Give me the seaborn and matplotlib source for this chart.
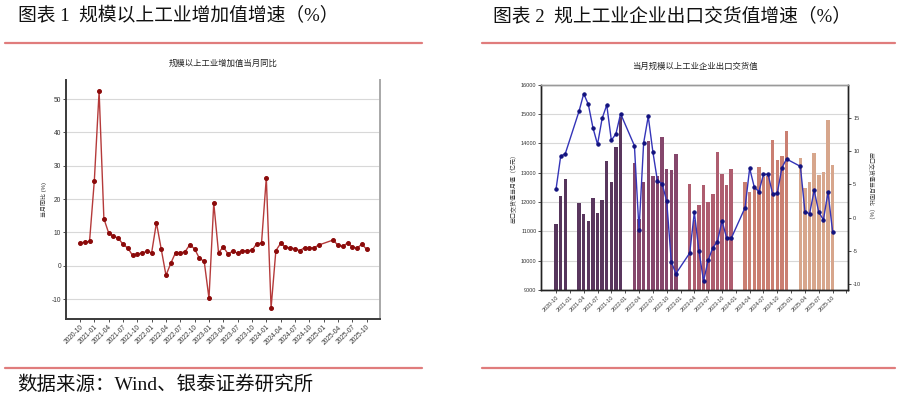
import numpy as np
import pandas as pd
import matplotlib
matplotlib.use("Agg")
import matplotlib.pyplot as plt
from matplotlib.lines import Line2D
import seaborn as sns

nan = np.nan

# monthly axis 2020-10 .. 2025-10
months = pd.period_range("2020-10", "2025-10", freq="M").strftime("%Y-%m").tolist()

# 规模以上工业增加值当月同比 (%)
ip_yoy = [6.9, 7.0, 7.3,
          25.5, 52.3, 14.1, 9.8, 8.8, 8.3, 6.4, 5.3, 3.1, 3.5, 3.8, 4.3,
          3.9, 12.9, 5.0, -2.9, 0.7, 3.9, 3.8, 4.2, 6.3, 5.0, 2.2, 1.3,
          -9.8, 18.8, 3.9, 5.6, 3.5, 4.4, 3.7, 4.5, 4.5, 4.6, 6.6, 6.8,
          26.4, -12.7, 4.5, 6.7, 5.6, 5.3, 5.1, 4.5, 5.4, 5.3, 5.4, 6.2,
          nan, nan, 7.7, 6.1, 5.8, 6.8, 5.7, 5.2, 6.5, 4.9]

# 出口交货值当月值 (亿元)
export_value = [11260, 12200, 12770,
                nan, nan, 11950, 11590, 11340, 12130, 11610, 12060, 13390, 12680, 13870, 14890,
                nan, nan, 13320, 11430, 12680, 14080, 12880, 12870, 14200, 13120, 13080, 13650,
                nan, nan, 12600, 11400, 11890, 12590, 12010, 12260, 13690, 12940, 12580, 13110,
                nan, nan, 12680, 12330, 12490, 13190, 12860, 12900, 14110, 13430, 13570, 14410,
                nan, nan, 13500, 12470, 12680, 13670, 12920, 13010, 14780, 13255]

# 出口交货值当月同比 (%)
export_yoy = [4.3, 9.2, 9.6,
              nan, nan, 16.0, 18.6, 17.0, 13.5, 11.0, 14.9, 16.9, 11.6, 12.6, 15.6,
              nan, nan, 10.8, -1.9, 11.2, 15.2, 9.9, 5.5, 5.1, 2.5, -6.6, -8.4,
              nan, nan, -5.3, 0.8, -5.0, -9.5, -6.4, -4.5, -3.6, -0.5, -3.0, -3.1,
              nan, nan, 1.5, 7.4, 4.6, 3.9, 6.5, 6.5, 3.5, 3.7, 7.5, 8.8,
              nan, nan, 7.7, 0.9, 0.6, 4.1, 0.8, -0.3, 3.8, -2.1]

year_colors = {"2020": "#5a2f62", "2021": "#5e3064", "2022": "#8f3d6e",
               "2023": "#bb5068", "2024": "#d97563", "2025": "#e4a27f"}

df = pd.DataFrame({"month": months, "m": np.arange(len(months)),
                   "ip": ip_yoy, "ev": export_value, "ey": export_yoy})
df["year"] = df["month"].str[:4]

sns.set_theme(style="white")
plt.rcParams["font.family"] = ["Liberation Sans", "Noto Sans CJK SC", "DejaVu Sans"]
plt.rcParams["axes.unicode_minus"] = False

fig = plt.figure(figsize=(9.01, 3.99), dpi=100)
W, H = 901, 399
head_font = ["Liberation Serif", "Noto Sans CJK SC"]
red = "#e07c7c"

# headers, rules and source note
fig.text(18 / W, 1 - 16 / H, "图表 1  规模以上工业增加值增速（%）", fontsize=13.5,
         family=head_font, va="center", color="#111111")
fig.text(493 / W, 1 - 16 / H, "图表 2  规上工业企业出口交货值增速（%）", fontsize=13.5,
         family=head_font, va="center", color="#111111")
for x0, x1 in [(5, 422), (482, 895)]:
    for yy in (42.7, 367.5):
        fig.add_artist(Line2D([x0 / W, x1 / W], [1 - yy / H, 1 - yy / H],
                              color=red, lw=1.6, transform=fig.transFigure))
fig.text(17 / W, 1 - 385 / H, "数据来源：Wind、银泰证券研究所", fontsize=14,
         family=head_font, va="center", color="#111111")

tick_pos = list(range(0, 61, 3))
tick_lab = months[::3]

# ---- left: industrial value added yoy
ax1 = fig.add_axes([66 / W, 1 - 319 / H, 314 / W, 239 / H])
sns.lineplot(data=df.dropna(subset=["ip"]), x="m", y="ip", ax=ax1, color="#b53a3a",
             lw=1.0, marker="o", markersize=2.8, markerfacecolor="#8b0a0a",
             markeredgecolor="#8b0a0a")
ax1.set_xlim(-2.93, 62.8)
ax1.set_ylim(-16, 55.7)
ax1.set_yticks([-10, 0, 10, 20, 30, 40, 50])
ax1.set_xticks(tick_pos)
ax1.set_xticklabels(tick_lab, rotation=45, ha="right", rotation_mode="anchor")
ax1.tick_params(axis="both", labelsize=4.8, length=2, width=0.6, pad=1.5,
                colors="#333333", direction="out", bottom=True, left=True)
ax1.yaxis.grid(True, color="#d8d8d8", lw=0.8)
ax1.set_xlabel("")
ax1.set_ylabel("当月同比 (%)", fontsize=4.3, labelpad=3, color="#333333")
for s in ("left", "bottom"):
    ax1.spines[s].set_color("#3a3a3a")
    ax1.spines[s].set_linewidth(1.4)
ax1.spines["right"].set_color("#a8a8a8")
ax1.spines["right"].set_linewidth(1.4)
ax1.spines["top"].set_visible(False)
fig.text(223 / W, 1 - 64 / H, "规模以上工业增加值当月同比", fontsize=6,
         ha="center", va="center", color="#222222")

# ---- right: export delivery value and yoy
ax2 = fig.add_axes([541.3 / W, 1 - 290 / H, 307 / W, 205.3 / H])
sns.barplot(data=df, x="month", y="ev", hue="year", order=months,
            palette=year_colors, dodge=False, width=0.75, linewidth=0,
            errorbar=None, legend=False, ax=ax2)
ax2.set_xlim(-3.2, 63.4)
ax2.set_ylim(9000, 16000)
ax2.set_yticks(range(9000, 16001, 1000))
ax2.yaxis.grid(True, color="#d8d8d8", lw=0.8)
ax2.set_axisbelow(True)
ax2.set_xticks(tick_pos + [63])
ax2.set_xticklabels(tick_lab + [""], rotation=45, ha="right", rotation_mode="anchor")
ax2.tick_params(axis="both", labelsize=4.0, length=2, width=0.6, pad=1.5,
                colors="#333333", direction="out", bottom=True, left=True)
ax2.set_xlabel("")
ax2.set_ylabel("出口交货值当月值（亿元）", fontsize=4.3, labelpad=3, color="#333333")

ax2b = ax2.twinx()
sns.lineplot(data=df.dropna(subset=["ey"]), x="m", y="ey", ax=ax2b, color="#3434b8",
             lw=1.0, marker="o", markersize=2.4, markerfacecolor="#12127e",
             markeredgecolor="#12127e")
ax2b.set_xlim(-3.2, 63.4)
ax2b.set_ylim(-10.85, 19.95)
ax2b.set_yticks([-10, -5, 0, 5, 10, 15])
ax2b.tick_params(axis="y", labelsize=4.0, length=2, width=0.6, pad=1.5,
                 colors="#333333", direction="out", right=True)
ax2b.set_ylabel("出口交货值当月同比（%）", fontsize=4.3, rotation=-90, labelpad=9,
                color="#333333")
ax2b.set_xlabel("")
for a in (ax2, ax2b):
    for s in ("left", "bottom", "right"):
        a.spines[s].set_color("#222222")
        a.spines[s].set_linewidth(1.0)
    a.spines["top"].set_color("#9a9a9a")
    a.spines["top"].set_linewidth(1.0)
fig.text(694.5 / W, 1 - 67 / H, "当月规模以上工业企业出口交货值", fontsize=6,
         ha="center", va="center", color="#222222")

fig.savefig("out.png", dpi=100)
